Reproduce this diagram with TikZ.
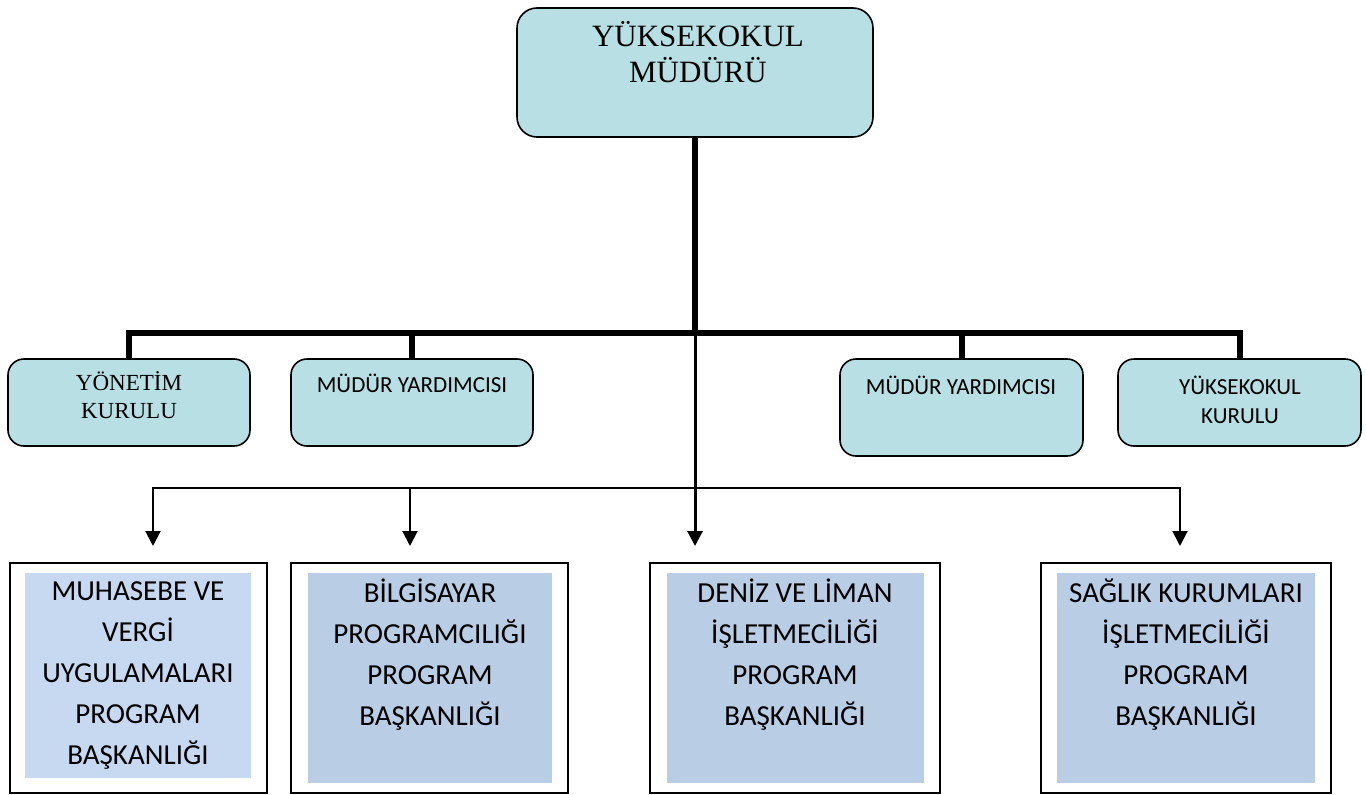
\documentclass[tikz,border=0pt]{standalone}
\usepackage{fontspec}
\setmainfont{Liberation Serif}
\newfontfamily\calib{Carlito}
\usetikzlibrary{arrows.meta}
\definecolor{aquafill}{HTML}{B8DFE3}
\definecolor{paleblue}{HTML}{C6D9F1}
\definecolor{steelfill}{HTML}{B9CDE5}
\tikzset{
  roundbox/.style={draw=black, line width=1.6pt, fill=aquafill, rounded corners=16pt, inner sep=0pt},
  outerbox/.style={draw=black, line width=1.8pt, fill=white, inner sep=0pt},
  innerbox/.style={draw=none, inner sep=0pt},
  txt/.style={align=center, inner sep=0pt, text=black},
  bus/.style={line width=6pt, line join=miter},
  arr/.style={line width=2pt, -{Triangle[width=15pt,length=15pt]}},
  bigserif/.style={font=\fontsize{31}{36}\selectfont},
  midserif/.style={font=\fontsize{23}{28}\selectfont},
  midsans/.style={font=\calib\fontsize{23}{29}\selectfont},
  bigsans/.style={font=\calib\fontsize{29}{41}\selectfont}
}
\begin{document}
\begin{tikzpicture}[x=1pt,y=-1pt]
\useasboundingbox (0,0) rectangle (1366,795);
% top
\node[roundbox, rounded corners=20pt, minimum width=356pt, minimum height=129pt] (top) at (695,72.5) {};
\node[txt, bigserif] (toptxt) at (698,52) {YÜKSEKOKUL\\MÜDÜRÜ};
% second row
\node[roundbox, minimum width=242pt, minimum height=87pt] (yk) at (129,402.5) {};
\node[txt, midserif] (yktxt) at (129,395) {YÖNETİM\\KURULU};
\node[roundbox, minimum width=242pt, minimum height=87pt] (my1) at (412,402.5) {};
\node[txt, midsans] (my1txt) at (412,383) {MÜDÜR YARDIMCISI};
\node[roundbox, minimum width=243pt, minimum height=97pt] (my2) at (961.5,407.5) {};
\node[txt, midsans] (my2txt) at (961,385) {MÜDÜR YARDIMCISI};
\node[roundbox, minimum width=243pt, minimum height=87pt] (ykk) at (1239.5,402.5) {};
\node[txt, midsans] (ykktxt) at (1240,400) {YÜKSEKOKUL\\KURULU};
% bottom row
\node[outerbox, minimum width=257pt, minimum height=230pt] (p1) at (138.5,678) {};
\node[innerbox, fill=paleblue, minimum width=226pt, minimum height=205pt] (p1in) at (138,675.5) {};
\node[txt, bigsans] (p1txt) at (138,675.5) {MUHASEBE VE\\VERGİ\\UYGULAMALARI\\PROGRAM\\BAŞKANLIĞI};
\node[outerbox, minimum width=277pt, minimum height=230pt] (p2) at (429.5,678) {};
\node[innerbox, fill=steelfill, minimum width=244pt, minimum height=210pt] (p2in) at (430,678) {};
\node[txt, bigsans] (p2txt) at (430,655) {BİLGİSAYAR\\PROGRAMCILIĞI\\PROGRAM\\BAŞKANLIĞI};
\node[outerbox, minimum width=290pt, minimum height=230pt] (p3) at (795,678) {};
\node[innerbox, fill=steelfill, minimum width=257pt, minimum height=210pt] (p3in) at (795.5,678) {};
\node[txt, bigsans] (p3txt) at (795,655) {DENİZ VE LİMAN\\İŞLETMECİLİĞİ\\PROGRAM\\BAŞKANLIĞI};
\node[outerbox, minimum width=290pt, minimum height=230pt] (p4) at (1186,678) {};
\node[innerbox, fill=steelfill, minimum width=258pt, minimum height=210pt] (p4in) at (1186,678) {};
\node[txt, bigsans] (p4txt) at (1186,655) {SAĞLIK KURUMLARI\\İŞLETMECİLİĞİ\\PROGRAM\\BAŞKANLIĞI};
% connectors
\coordinate (j) at (695,333);
\coordinate (k) at (695,488);
\coordinate (a1) at (153,546);
\coordinate (a2) at (410,546);
\coordinate (a3) at (695,546);
\coordinate (a4) at (1180,546);
\draw[arr, line width=3pt] (j) -- (a3);
\draw[arr] (k) -| (a1);
\draw[arr] (k) -| (a2);
\draw[arr] (k) -| (a4);
\draw[bus] (top.south) -- (j);
\draw[bus] (j) -| (yk.north);
\draw[bus] (j) -| (my1.north);
\draw[bus] (j) -| (my2.north);
\draw[bus] (j) -| (ykk.north);
\end{tikzpicture}
\end{document}
